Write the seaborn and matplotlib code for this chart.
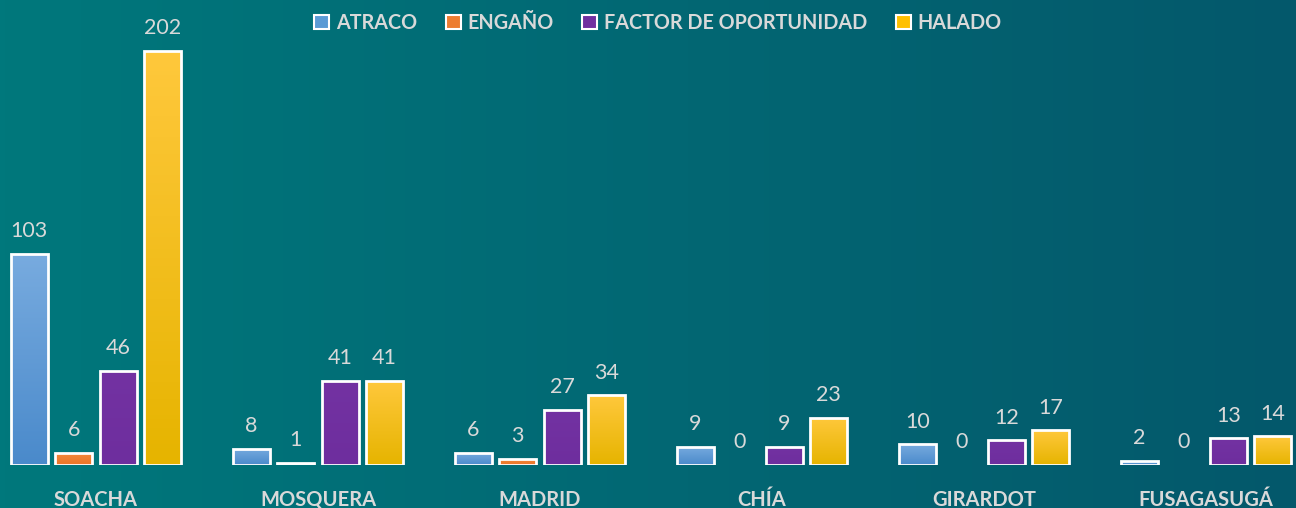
import numpy as np
import pandas as pd
import matplotlib.pyplot as plt
import matplotlib.colors as mcolors
import seaborn as sns

# datos del grafico
municipios = ['SOACHA', 'MOSQUERA', 'MADRID', 'CHÍA', 'GIRARDOT', 'FUSAGASUGÁ']
modalidades = ['ATRACO', 'ENGAÑO', 'FACTOR DE OPORTUNIDAD', 'HALADO']
atraco = [103, 8, 6, 9, 10, 2]
engano = [6, 1, 3, 0, 0, 0]
factor = [46, 41, 27, 9, 12, 13]
halado = [202, 41, 34, 23, 17, 14]

colores = ['#5b9bd5', '#ed7d31', '#7030a0', '#ffc000']
# degradado de cada serie (arriba, abajo)
degradados = {
    'ATRACO': ('#78abdf', '#4a8acb'),
    'ENGAÑO': ('#f58a3c', '#ea7428'),
    'FACTOR DE OPORTUNIDAD': ('#7332a2', '#6e2e9e'),
    'HALADO': ('#ffc83c', '#e6b400'),
}

df = pd.DataFrame({
    'municipio': municipios * 4,
    'modalidad': [m for m in modalidades for _ in municipios],
    'casos': atraco + engano + factor + halado,
})

sns.set_style('white')
plt.rcParams['font.family'] = ['Lato', 'DejaVu Sans']

fig = plt.figure(figsize=(12.96, 5.08), dpi=100)

# fondo con degradado horizontal
bg = fig.add_axes([0, 0, 1, 1], zorder=-10)
cmap_bg = mcolors.LinearSegmentedColormap.from_list('bg', ['#00787c', '#04586b'])
bg.imshow(np.linspace(0, 1, 256).reshape(1, -1), aspect='auto', cmap=cmap_bg,
          extent=[0, 1, 0, 1])
bg.axis('off')

ax = fig.add_axes([0, 43 / 508, 1, 465 / 508])
ax.set_facecolor('none')

sns.barplot(data=df, x='municipio', y='casos', hue='modalidad', hue_order=modalidades,
            palette=colores, width=0.8, gap=0.165, edgecolor='white', linewidth=2,
            errorbar=None, legend=False, ax=ax)

# relleno degradado dentro de cada barra
for cont, mod in zip(ax.containers, modalidades):
    top, bottom = degradados[mod]
    cm = mcolors.LinearSegmentedColormap.from_list(mod, [bottom, top])
    for bar in cont:
        h = bar.get_height()
        if h <= 0:
            bar.set_linewidth(0)
            continue
        x0 = bar.get_x()
        w = bar.get_width()
        im = ax.imshow(np.linspace(0, 1, 100).reshape(-1, 1), cmap=cm, aspect='auto',
                       origin='lower', extent=[x0, x0 + w, 0, h], zorder=bar.get_zorder() - 0.1)
        im.set_clip_path(bar)
        bar.set_facecolor('none')
    ax.bar_label(cont, padding=9, color='#d9d9d9', fontsize=15.5)

ax.set_xlim(-0.432, 5.405)
ax.set_ylim(0, 226.8)

ax.set_xlabel('')
ax.set_ylabel('')
ax.set_yticks([])
ax.tick_params(axis='x', length=0, pad=18)
for lbl in ax.get_xticklabels():
    lbl.set_fontweight('bold')
    lbl.set_fontsize(14.5)
    lbl.set_color('#d9d9d9')
sns.despine(ax=ax, left=True, bottom=True)

# leyenda
handles = [plt.Rectangle((0, 0), 1, 1, facecolor=c, edgecolor='white', linewidth=1.5)
           for c in colores]
leg = fig.legend(handles, modalidades, loc='center', bbox_to_anchor=(658 / 1296, 1 - 23 / 508),
                 ncol=4, frameon=False, handlelength=0.75, handleheight=0.75,
                 handletextpad=0.35, columnspacing=1.45, fontsize=14.2)
for t in leg.get_texts():
    t.set_color('#d9d9d9')
    t.set_fontweight('bold')

fig.savefig('out.png', dpi=100)
